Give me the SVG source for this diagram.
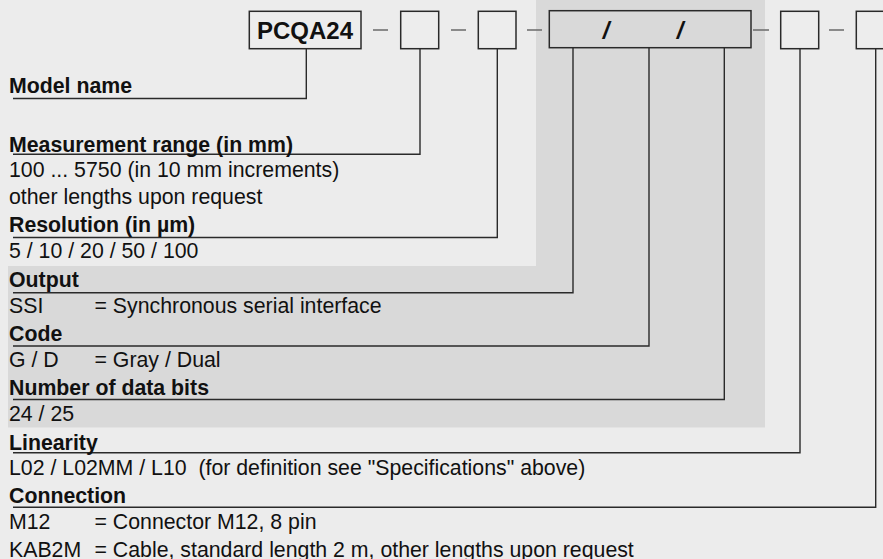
<svg xmlns="http://www.w3.org/2000/svg" width="883" height="559" viewBox="0 0 883 559">
<style>
text{font-family:"Liberation Sans",Arial,sans-serif;fill:#111;}
.t{font-size:21.3px;}
.b{font-size:21.3px;font-weight:bold;}
.sl{font-size:24px;font-weight:bold;font-style:italic;}
.box{fill:#ededed;stroke:#2a2a2a;stroke-width:1.5;}
.wbox{fill:#d9d9d9;stroke:#2a2a2a;stroke-width:1.5;}
.dash{stroke:#6a6a6a;stroke-width:1.5;}
.con{fill:none;stroke:#2a2a2a;stroke-width:1.4;}
</style>
<rect x="0" y="0" width="883" height="559" fill="#ececec"/>
<path d="M536 0 H765 V427.5 H8 V266 H536 Z" fill="#d9d9d9"/>
<g id="dashes">
<line class="dash" x1="373" y1="30" x2="388" y2="30"/>
<line class="dash" x1="451" y1="30" x2="466" y2="30"/>
<line class="dash" x1="527" y1="30" x2="542" y2="30"/>
<line class="dash" x1="753" y1="30" x2="769" y2="30"/>
<line class="dash" x1="829" y1="30" x2="844" y2="30"/>
</g>
<g id="connectors">
<polyline class="con" points="306.3,48.7 306.3,98.5 13,98.5"/>
<polyline class="con" points="420,48.7 420,154.3 13,154.3"/>
<polyline class="con" points="497.3,48.7 497.3,237.5 13,237.5"/>
<polyline class="con" points="573,47.7 573,292.7 13,292.7"/>
<polyline class="con" points="649,47.7 649,346 13,346"/>
<polyline class="con" points="724.3,47.7 724.3,399.5 13,399.5"/>
<polyline class="con" points="800,48.7 800,452.7 13,452.7"/>
<polyline class="con" points="875.7,48.7 875.7,507.3 13,507.3"/>
</g>
<g id="node-model">
<rect class="box" x="249.3" y="11.3" width="111.7" height="37.4"/>
<text x="305" y="39" font-size="24" font-weight="bold" text-anchor="middle">PCQA24</text>
<text class="b" x="9" y="93.3">Model name</text>
</g>
<g id="node-range">
<rect class="box" x="400.7" y="11.3" width="38" height="37.4"/>
<text class="b" x="9" y="151.7">Measurement range (in mm)</text>
<text class="t" x="9" y="176.7">100 ... 5750 (in 10 mm increments)</text>
<text class="t" x="9" y="204">other lengths upon request</text>
</g>
<g id="node-resolution">
<rect class="box" x="478.3" y="11.3" width="37.7" height="37.4"/>
<text class="b" x="9" y="231.7">Resolution (in µm)</text>
<text class="t" x="9" y="258.3">5 / 10 / 20 / 50 / 100</text>
</g>
<g id="node-output-code-bits">
<rect class="wbox" x="549.3" y="10.7" width="201.7" height="37"/>
<text class="sl" x="606" y="38.5" text-anchor="middle">/</text>
<text class="sl" x="680" y="38.5" text-anchor="middle">/</text>
</g>
<g id="node-output">
<text class="b" x="9" y="287.3">Output</text>
<text class="t" x="9" y="313.3">SSI</text>
<text class="t" x="94.5" y="313.3">= Synchronous serial interface</text>
</g>
<g id="node-code">
<text class="b" x="9" y="340.7">Code</text>
<text class="t" x="9" y="367.3">G / D</text>
<text class="t" x="94.5" y="367.3">= Gray / Dual</text>
</g>
<g id="node-bits">
<text class="b" x="9" y="395">Number of data bits</text>
<text class="t" x="9" y="420.7">24 / 25</text>
</g>
<g id="node-linearity">
<rect class="box" x="780.7" y="11.3" width="38" height="37.4"/>
<text class="b" x="9" y="450">Linearity</text>
<text class="t" x="9" y="475" xml:space="preserve">L02 / L02MM / L10  (for definition see "Specifications" above)</text>
</g>
<g id="node-connection">
<rect class="box" x="856.3" y="11.3" width="40" height="37.4"/>
<text class="b" x="9" y="502.7">Connection</text>
<text class="t" x="9" y="529.3">M12</text>
<text class="t" x="94.5" y="529.3">= Connector M12, 8 pin</text>
<text class="t" x="9" y="556.7">KAB2M</text>
<text class="t" x="94.5" y="556.7">= Cable, standard length 2 m, other lengths upon request</text>
</g>
</svg>
